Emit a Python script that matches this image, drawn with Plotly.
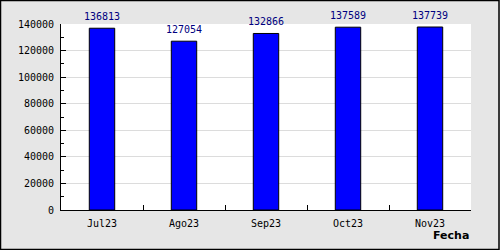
import plotly.graph_objects as go

categories = ["Jul23", "Ago23", "Sep23", "Oct23", "Nov23"]
values = [136813, 127054, 132866, 137589, 137739]
y_ticks = [0, 20000, 40000, 60000, 80000, 100000, 120000, 140000]
x_title = "Fecha"

FONT = "DejaVu Sans Mono"

fig = go.Figure()
fig.add_trace(go.Bar(
    x=categories,
    y=values,
    width=0.31,
    marker=dict(color="#0000ff", line=dict(color="#000000", width=1)),
    cliponaxis=False,
))

value_labels = [dict(
    text=str(v), x=c, y=v, xref="x", yref="y",
    xanchor="center", yanchor="bottom", yshift=4,
    showarrow=False,
    font=dict(family=FONT, size=10, color="#000080"),
) for c, v in zip(categories, values)]

fig.update_layout(
    width=500, height=250,
    margin=dict(l=61, r=29, t=24, b=40),
    paper_bgcolor="#e6e6e6",
    plot_bgcolor="#ffffff",
    showlegend=False,
    font=dict(family=FONT, size=10, color="#000000"),
    xaxis=dict(
        type="category",
        tickson="boundaries",
        ticks="inside", ticklen=5, tickcolor="#000000",
        showline=True, linecolor="#000000", linewidth=1,
        showgrid=False, zeroline=False,
        tickfont=dict(family=FONT, size=10, color="#000000"),
        ticklabelstandoff=4,
    ),
    yaxis=dict(
        range=[0, 140000],
        tickvals=y_ticks,
        ticktext=[str(t) for t in y_ticks],
        ticks="inside", ticklen=5, tickcolor="#000000",
        showline=True, linecolor="#000000", linewidth=1,
        showgrid=True, gridcolor="#dcdcdc", gridwidth=1,
        zeroline=False,
        minor=dict(dtick=10000, ticks="inside", ticklen=3, tickcolor="#000000", showgrid=False),
        tickfont=dict(family=FONT, size=10, color="#000000"),
        ticklabelstandoff=4,
    ),
    annotations=value_labels + [dict(
        text="<b>" + x_title + "</b>",
        xref="paper", yref="paper", x=1, y=0,
        xanchor="right", yanchor="middle",
        xshift=0, yshift=-25,
        showarrow=False,
        font=dict(family="DejaVu Sans", size=11, color="#000000"),
    )],
    shapes=[dict(
        type="rect", xref="paper", yref="paper",
        x0=-61 / 410 + 0.5 / 410, x1=1 + 29 / 410 - 1 / 410,
        y0=-40 / 186 + 0.5 / 186, y1=1 + 24 / 186 - 0.5 / 186,
        line=dict(color="#000000", width=1.5),
        layer="below",
    )],
)

fig.write_html("out.html")
